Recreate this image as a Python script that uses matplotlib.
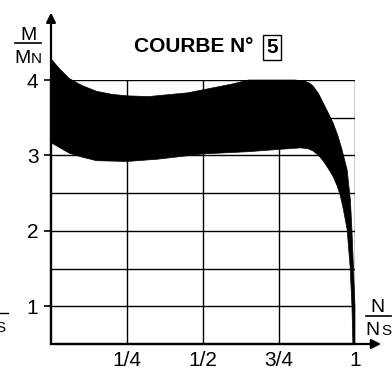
import matplotlib.pyplot as plt

plt.rcParams['font.family'] = ['Liberation Sans', 'DejaVu Sans']

# band limits (N/Ns , M/MN)
upper_n = [0, 0.03, 0.06, 0.10, 0.15, 0.20, 0.25, 0.32, 0.45, 0.50, 0.60, 0.65, 0.80, 0.83, 0.85, 0.862, 0.88, 0.895, 0.91, 0.928, 0.943, 0.957, 0.974, 0.985, 0.99, 0.995, 1.0, 1.0]
upper_m = [4.28, 4.14, 4.02, 3.93, 3.85, 3.81, 3.79, 3.78, 3.83, 3.87, 3.95, 4.0, 4.0, 3.99, 3.96, 3.92, 3.82, 3.70, 3.58, 3.43, 3.27, 3.08, 2.81, 2.40, 2.0, 1.5, 1.0, 0.5]
lower_n = [0, 0.03, 0.06, 0.10, 0.15, 0.25, 0.35, 0.50, 0.65, 0.75, 0.82, 0.845, 0.862, 0.88, 0.895, 0.91, 0.928, 0.94, 0.951, 0.962, 0.974, 0.984, 0.99, 0.993]
lower_m = [3.17, 3.10, 3.03, 2.98, 2.93, 2.92, 2.95, 3.02, 3.05, 3.08, 3.10, 3.09, 3.06, 3.00, 2.93, 2.84, 2.72, 2.61, 2.48, 2.28, 2.02, 1.52, 1.0, 0.5]

xticks = [0.25, 0.5, 0.75, 1]
xlabels = ['1/4', '1/2', '3/4', '1']
yticks = [1, 2, 3, 4]
ylabels = ['1', '2', '3', '4']

fig = plt.figure(figsize=(3.92, 3.70), dpi=100)
ax = fig.add_axes([51/392, 26/370, 304/392, 264/370])
ax.set_xlim(0, 1)
ax.set_ylim(0.5, 4)

# grid
for x in xticks:
    ax.plot([x, x], [0.5, 4], color='black', lw=1.0, zorder=1)
for y in [1, 1.5, 2, 2.5, 3, 3.5, 4]:
    ax.plot([0, 1], [y, y], color='black', lw=1.0, zorder=1)

# shaded band
poly_x = upper_n + lower_n[::-1]
poly_y = upper_m + lower_m[::-1]
ax.fill(poly_x, poly_y, color='black', lw=0.5, zorder=2, clip_on=False)

for s in ['top', 'right']:
    ax.spines[s].set_visible(False)
ax.spines['left'].set_linewidth(1.6)
ax.spines['bottom'].set_linewidth(1.6)

ax.set_xticks(xticks)
ax.set_xticklabels(xlabels, fontsize=15)
ax.set_yticks(yticks)
ax.set_yticklabels(ylabels, fontsize=15)
ax.tick_params(axis='x', length=0, pad=5)
ax.tick_params(axis='y', length=5, width=1.2, pad=4)

# arrows
ax.annotate('', xy=(0, 4.93), xytext=(0, 0.5),
            arrowprops=dict(arrowstyle='-|>', color='black', lw=1.6, mutation_scale=14),
            annotation_clip=False)
ax.annotate('', xy=(1.095, 0.5), xytext=(0, 0.5),
            arrowprops=dict(arrowstyle='-|>', color='black', lw=1.6, mutation_scale=14),
            annotation_clip=False)

# axis labels as fractions
def px(x, y):
    return x / 392, 1 - y / 370

fig.text(*px(28, 40), 'M', fontsize=14, ha='center', va='baseline')
fig.add_artist(plt.Line2D([15/392, 41/392], [1 - 43/370] * 2, color='black', lw=1.2))
fig.text(*px(14, 63), 'M', fontsize=14, ha='left', va='baseline')
fig.text(*px(31, 63), 'N', fontsize=11, ha='left', va='baseline')

fig.text(*px(377, 312), 'N', fontsize=14, ha='center', va='baseline')
fig.add_artist(plt.Line2D([366/392, 391/392], [1 - 316/370] * 2, color='black', lw=1.2))
fig.text(*px(365, 335), 'N', fontsize=14, ha='left', va='baseline')
fig.text(*px(381, 335), 'S', fontsize=11, ha='left', va='baseline')

# title
fig.text(*px(134, 52), 'COURBE N°', fontsize=15, fontweight='bold', ha='left', va='baseline')
fig.text(*px(272, 53), '5', fontsize=15, fontweight='bold', ha='center', va='baseline',
         bbox=dict(boxstyle='square,pad=0.15', fc='white', ec='black', lw=1.0))

# cropped fragment at the left edge
fig.add_artist(plt.Line2D([0, 8/392], [1 - 313/370] * 2, color='black', lw=1.0))
fig.text(*px(-5, 332), 'S', fontsize=11, ha='left', va='baseline')

fig.savefig('out.png', dpi=100)
